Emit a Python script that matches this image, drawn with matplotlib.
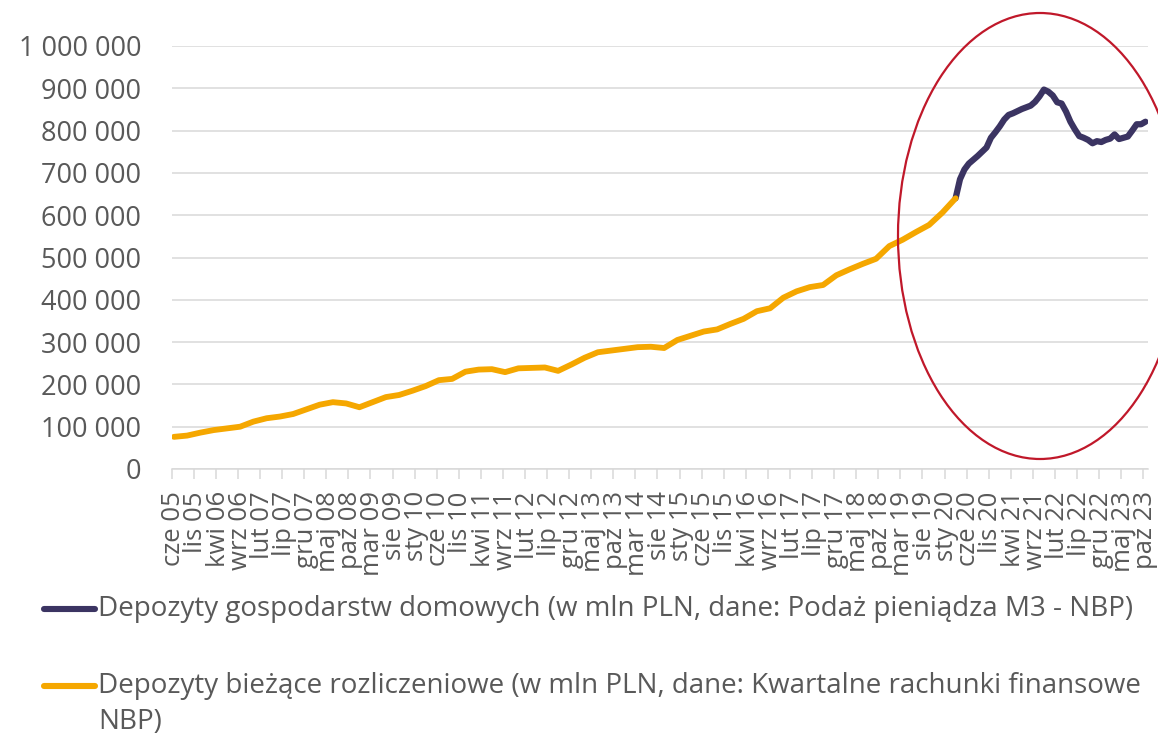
import matplotlib
matplotlib.use("Agg")
import matplotlib.pyplot as plt
import numpy as np
from matplotlib.patches import Ellipse
from matplotlib.lines import Line2D
from matplotlib.ticker import FuncFormatter, FixedLocator

plt.rcParams['font.family'] = ['Open Sans', 'DejaVu Sans']

# x-axis tick labels (every 5 months, Jun 2005 - Oct 2023)
tick_labels = ["cze 05", "lis 05", "kwi 06", "wrz 06", "lut 07", "lip 07", "gru 07",
               "maj 08", "paź 08", "mar 09", "sie 09", "sty 10", "cze 10", "lis 10",
               "kwi 11", "wrz 11", "lut 12", "lip 12", "gru 12", "maj 13", "paź 13",
               "mar 14", "sie 14", "sty 15", "cze 15", "lis 15", "kwi 16", "wrz 16",
               "lut 17", "lip 17", "gru 17", "maj 18", "paź 18", "mar 19", "sie 19",
               "sty 20", "cze 20", "lis 20", "kwi 21", "wrz 21", "lut 22", "lip 22",
               "gru 22", "maj 23", "paź 23"]

# quarterly current deposits, Q2 2005 - Q1 2020 (mln PLN)
orange_vals = [76000, 79000, 86000, 92000, 96000, 100000, 112000, 120000, 124000, 130000,
               141000, 152000, 158000, 155000, 146000, 158000, 170000, 175000, 185000, 196000,
               210000, 213000, 230000, 235000, 236000, 229000, 238000, 239000, 240000, 232000,
               247000, 263000, 276000, 280000, 284000, 288000, 289000, 286000, 305000, 315000,
               325000, 330000, 343000, 355000, 373000, 380000, 405000, 420000, 430000, 435000,
               458000, 472000, 485000, 497000, 527000, 542000, 560000, 577000, 606000, 640000]

# monthly household deposits, Mar 2020 - Oct 2023 (mln PLN)
purple_vals = [640000, 685000, 708000, 722000, 731000, 740000, 750000, 760000, 783000, 796000,
               810000, 826000, 837000, 841000, 846000, 851000, 855000, 859000, 868000, 881000,
               897000, 892000, 883000, 867000, 864000, 845000, 821000, 803000, 787000, 783000,
               778000, 770000, 775000, 773000, 778000, 781000, 791000, 780000, 783000, 786000,
               800000, 815000, 815000, 821000]

label1 = "Depozyty gospodarstw domowych (w mln PLN, dane: Podaż pieniądza M3 - NBP)"
label2a = "Depozyty bieżące rozliczeniowe (w mln PLN, dane: Kwartalne rachunki finansowe"
label2b = "NBP)"

PURPLE = '#3B3462'
ORANGE = '#F5A700'
GRID = '#D9D9D9'
TXT = '#595959'

W, H = 1158, 735
fig = plt.figure(figsize=(W / 100, H / 100), dpi=100)
ax = fig.add_axes([171.7 / W, 1 - 469 / H, 976 / W, 423 / H])

x_orange = np.arange(len(orange_vals)) * 3
x_purple = np.arange(len(purple_vals)) + 177

ax.plot(x_purple, purple_vals, color=PURPLE, lw=4.5, solid_capstyle='round',
        solid_joinstyle='round', zorder=3)
ax.plot(x_orange, orange_vals, color=ORANGE, lw=4.2, solid_capstyle='round',
        solid_joinstyle='round', zorder=4)

ax.set_xlim(-0.5, 220.5)
ax.set_ylim(0, 1000000)
ax.set_yticks(np.arange(0, 1000001, 100000))
ax.yaxis.set_major_formatter(FuncFormatter(lambda v, p: f"{int(v):,}".replace(",", " ")))
ax.grid(axis='y', color=GRID, lw=1.1)
ax.set_axisbelow(True)
for s in ['top', 'right', 'left']:
    ax.spines[s].set_visible(False)
ax.spines['bottom'].set_color(GRID)
ax.spines['bottom'].set_linewidth(1.1)
ax.spines['bottom'].set_zorder(1)

ax.set_xticks(np.arange(len(tick_labels)) * 5)
ax.set_xticklabels(tick_labels, rotation=90)
ax.xaxis.set_minor_locator(FixedLocator(np.arange(len(tick_labels)) * 5 - 0.5))
ax.tick_params(axis='x', which='major', length=0, pad=16, labelsize=18.5, labelcolor=TXT)
ax.tick_params(axis='x', which='minor', length=7.5, width=1.1, color=GRID)
ax.tick_params(axis='y', length=0, pad=22, labelsize=19.5, labelcolor=TXT)

# highlight ellipse
ell = Ellipse((1040 / W, 1 - 236 / H), 284 / W, 446 / H, transform=fig.transFigure,
              fill=False, ec='#C0182A', lw=1.6, zorder=10)
fig.add_artist(ell)

# legend
y1 = 1 - 609 / H
y2 = 1 - 686 / H
fig.add_artist(Line2D([44 / W, 95 / W], [y1, y1], transform=fig.transFigure,
                      color=PURPLE, lw=4.4, solid_capstyle='round'))
fig.add_artist(Line2D([44 / W, 95 / W], [y2, y2], transform=fig.transFigure,
                      color=ORANGE, lw=4.4, solid_capstyle='round'))
fig.text(98 / W, y1, label1, ha='left', va='center', fontsize=20, color=TXT)
fig.text(98 / W, y2, label2a, ha='left', va='center', fontsize=20, color=TXT)
fig.text(98 / W, 1 - 722 / H, label2b, ha='left', va='center', fontsize=20, color=TXT)

fig.savefig('out.png', dpi=100)
